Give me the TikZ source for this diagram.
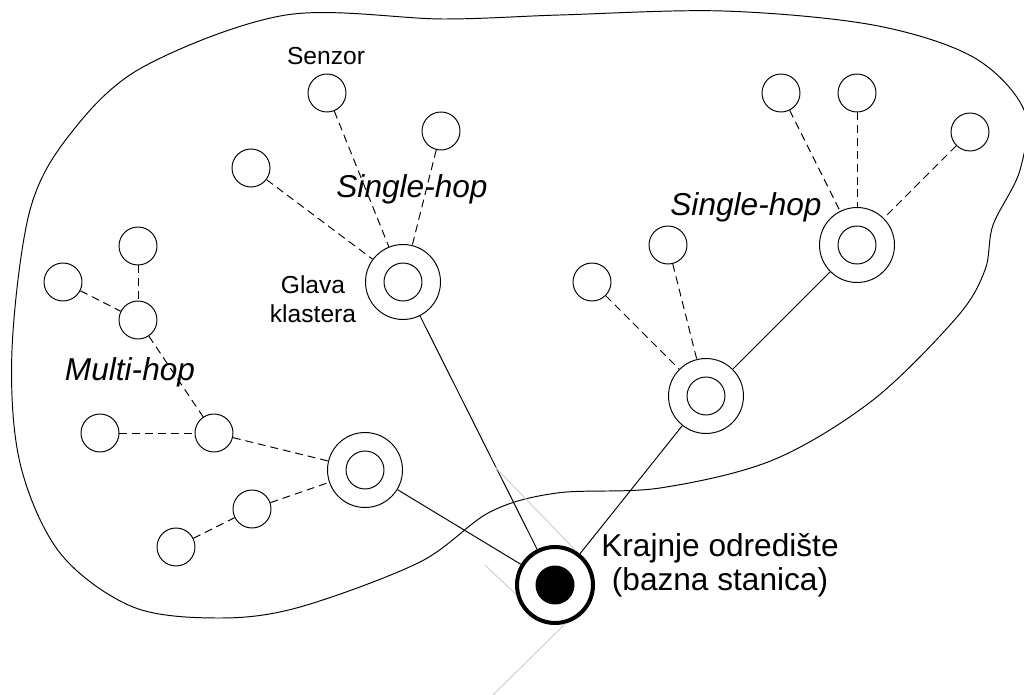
\documentclass[tikz,border=0pt]{standalone}
\usepackage{fontspec}
\setmainfont{Liberation Sans}
\begin{document}
\begin{tikzpicture}[x=0.02cm, y=-0.02cm, line width=0.55pt,
    sensor/.style={circle, draw, minimum size=0.76cm, inner sep=0pt},
    head/.style={circle, draw, minimum size=1.5cm, inner sep=0pt,
        path picture={\draw (path picture bounding box.center) circle (0.38cm);}},
    sink/.style={circle, draw, line width=2.3pt, minimum size=1.52cm, inner sep=0pt,
        path picture={\fill (path picture bounding box.center) circle (0.39cm);}},
    link/.style={dash pattern=on 4.5pt off 2.8pt},
    guide/.style={gray!40, line width=0.5pt},
    hop/.style={font=\fontsize{18}{21}\selectfont\itshape},
    note/.style={font=\fontsize{14}{16.5}\selectfont, align=center}]
    \useasboundingbox (0,0) rectangle (1024,695);

    \draw plot[smooth cycle, tension=0.55] coordinates {
        (143,67) (286,15) (443,19) (560,15) (723,11) (873,25) (973,57)
        (1024,110) (1020,170) (993,225) (985,270) (957,317) (873,400)
        (773,460) (660,488) (557,493) (490,512) (420,562) (300,607)
        (220,618) (133,607) (60,553) (20,463) (12,350) (30,210) (71,133)};

    \foreach \n/\x/\y in {m1/138/246, m2/63/282, m3/138/320, m4/100/433,
        m5/214/433, m6/252/509, m7/176/547, s1/251/168, s2/327/93,
        s3/441/131, r1/592/282, r2/668/245, t1/781/93, t2/857/93, t3/970/132}
        \node[sensor] (\n) at (\x,\y) {};

    \node[head] (h1) at (365,470) {};
    \node[head] (h2) at (403,282) {};
    \node[head] (h3) at (706,396) {};
    \node[head] (h4) at (857,245) {};
    \node[sink] (bs) at (555,585) {};

    \foreach \a/\b in {m1/m3, m2/m3, m3/m5, m4/m5, m5/h1, m7/m6, m6/h1,
        s1/h2, s2/h2, s3/h2, r1/h3, r2/h3, t1/h4, t2/h4, t3/h4}
        \draw[link] (\a) -- (\b);

    \foreach \a in {h1, h2, h3} \draw (\a) -- (bs);
    \draw (h3) -- (h4);

    \coordinate (gA) at (495,467);
    \coordinate (gB) at (485,565);
    \coordinate (gC) at (493,695);
    \draw[guide] (gA) -- (bs.58);
    \draw[guide] (gB) -- (bs.194);
    \draw[guide] (bs.285) -- (gC);

    \node[note] (senzor) at (326,56) {Senzor};
    \node[note] (glava) at (313,299) {Glava\\klastera};
    \node[hop] (hopA) at (412,189) {Single-hop};
    \node[hop] (hopB) at (746,207) {Single-hop};
    \node[hop] (hopC) at (130,372) {Multi-hop};
    \node[font=\fontsize{18}{19.5}\selectfont, align=center] (cilj) at (720,565)
        {Krajnje odredište\\(bazna stanica)};
\end{tikzpicture}
\end{document}
